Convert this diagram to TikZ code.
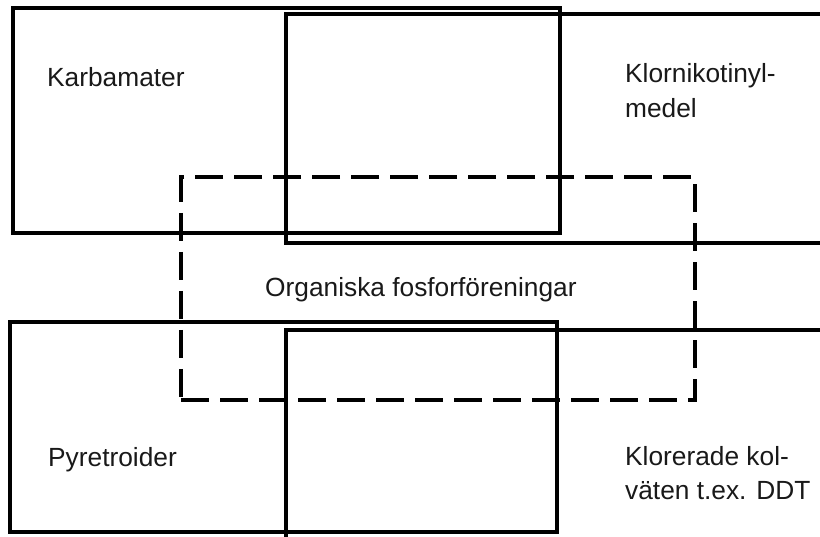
\documentclass[tikz,border=0pt]{standalone}
\usepackage{fontspec}
\setmainfont{Liberation Sans}
\begin{document}
\begin{tikzpicture}[x=1pt,y=-1pt,
  grp/.style={draw=black, line width=3.2pt, rectangle, inner sep=0pt, outer sep=0pt, anchor=north west},
  dgrp/.style={grp, dash pattern=on 28pt off 11pt, line width=3.4pt},
  lbl/.style={anchor=base west, inner sep=0pt, font=\fontsize{26.3}{35}\selectfont, text=black!90}]
\useasboundingbox (0,0) rectangle (820,537);
\fill[white] (0,0) rectangle (820,537);
\clip (0,0) rectangle (820,537);
% solid group boxes
\node[grp, minimum width=547pt, minimum height=225pt] (karb) at (13,8) {};
\node[grp, minimum width=560pt, minimum height=229pt] (klorn) at (286,14) {};
\node[grp, minimum width=547pt, minimum height=210pt] (pyr) at (10,322) {};
\node[grp, minimum width=560pt, minimum height=240pt] (klor) at (286,330) {};
% dashed box
\node[dgrp, minimum width=514pt, minimum height=223pt] (org) at (181,177) {};
% labels
\node[lbl] (tkarb) at (47,87) {Karbamater};
\node[lbl] (tklorn1) at (625,83) {Klornikotinyl-};
\node[lbl] (tklorn2) at (625,118) {medel};
\node[lbl] (torg) at (265,297) {Organiska fosforföreningar};
\node[lbl] (tpyr) at (48,467) {Pyretroider};
\node[lbl] (tklor1) at (625,465) {Klorerade kol-};
\node[lbl] (tklor2) at (625,500) {väten t.ex. DDT};
\end{tikzpicture}
\end{document}
